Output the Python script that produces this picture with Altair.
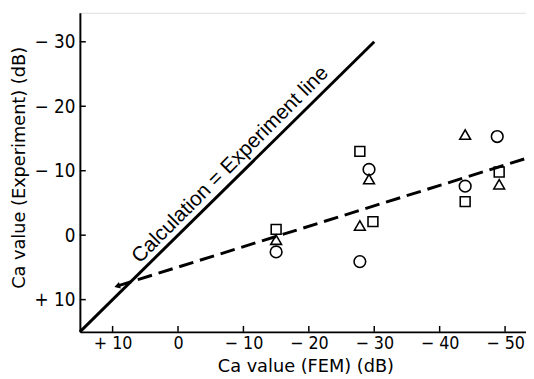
import altair as alt
import pandas as pd

# Ca values (dB)
circle_fem = [-15.0, -29.2, -27.8, -43.9, -48.8]
circle_exp = [2.6, -10.2, 4.1, -7.6, -15.3]
square_fem = [-15.0, -27.8, -29.8, -43.9, -49.1]
square_exp = [-0.9, -13.0, -2.1, -5.2, -9.8]
triangle_fem = [-15.0, -29.2, -27.8, -43.9, -49.1]
triangle_exp = [0.7, -8.7, -1.5, -15.6, -7.9]

ideal_fem = [15.0, -30.0]
ideal_exp = [15.0, -30.0]
trend_fem = [9.3, -53.2]
trend_exp = [7.9, -11.9]

x_ticks = [10, 0, -10, -20, -30, -40, -50]
y_ticks = [10, 0, -10, -20, -30]
x_domain = [-53.2, 15]
y_domain = [-34.5, 15]

label_text = ["Calculation = Experiment line"]
label_fem = [-8.0]
label_exp = [-10.9]

FONT = "Liberation Sans"
TFONT = "DejaVu Sans"
NFONT = "'Liberation Sans Narrow', 'DejaVu Sans Condensed', 'Liberation Sans'"
W, H = 453, 324

fmt = "datum.value > 0 ? '+ ' + datum.value : (datum.value < 0 ? '\u2212 ' + abs(datum.value) : '0')"

xs = alt.Scale(domain=x_domain, reverse=True, nice=False, zero=False)
ys = alt.Scale(domain=y_domain, reverse=True, nice=False, zero=False)

xaxis = alt.Axis(values=x_ticks, labelExpr=fmt, ticks=False, grid=False,
                 domainColor="black", domainWidth=1.6, labelFont=NFONT, labelFontSize=18,
                 labelColor="black", labelPadding=3, title="Ca value (FEM) (dB)",
                 titleFont=TFONT, titleFontSize=18, titleFontWeight="normal", titleColor="black",
                 titleX=229, titleY=40, titleBaseline="alphabetic")
yaxis = alt.Axis(values=y_ticks, labelExpr=fmt, ticks=False, grid=False,
                 domainColor="black", domainWidth=2, labelFont=NFONT, labelFontSize=19,
                 labelColor="black", labelPadding=5, title="Ca value (Experiment) (dB)",
                 titleFont=TFONT, titleFontSize=18, titleFontWeight="normal", titleColor="black",
                 titleX=-56, titleY=157, titleAngle=270, titleBaseline="alphabetic",
                 titleAlign="center")

pts = pd.DataFrame({
    "fem": circle_fem + square_fem + triangle_fem,
    "exp": circle_exp + square_exp + triangle_exp,
    "kind": ["circle"] * 5 + ["square"] * 5 + ["triangle-up"] * 5,
})

base_x = alt.X("fem:Q", scale=xs, axis=xaxis)
base_y = alt.Y("exp:Q", scale=ys, axis=yaxis)

ideal = alt.Chart(pd.DataFrame({"fem": ideal_fem, "exp": ideal_exp})).mark_line(
    color="black", strokeWidth=3).encode(x=base_x, y=base_y)

trend = alt.Chart(pd.DataFrame({"fem": trend_fem, "exp": trend_exp})).mark_line(
    color="black", strokeWidth=3, strokeDash=[15, 7]).encode(x=base_x, y=base_y)

arrow = alt.Chart(pd.DataFrame({"fem": trend_fem[:1], "exp": trend_exp[:1]})).mark_point(
    shape="triangle-up", filled=True, color="black", size=45, angle=253, opacity=1
).encode(x=base_x, y=base_y)

def sym(kind, size):
    return alt.Chart(pts[pts.kind == kind]).mark_point(
        shape=kind, filled=False, color="black", strokeWidth=1.6, size=size, opacity=1
    ).encode(x=base_x, y=base_y)

circles = sym("circle", 140)
squares = sym("square", 100)
triangles = sym("triangle-up", 120)

label = alt.Chart(pd.DataFrame({"fem": label_fem, "exp": label_exp, "t": label_text})).mark_text(
    angle=315, font=FONT, fontSize=21, color="black", align="center", baseline="middle"
).encode(x=base_x, y=base_y, text="t:N")

xt = alt.Chart(pd.DataFrame({"fem": x_ticks})).mark_rule(color="black", strokeWidth=1.5).encode(
    x=base_x, y=alt.value(H), y2=alt.value(H - 6))
yt = alt.Chart(pd.DataFrame({"exp": y_ticks})).mark_rule(color="black", strokeWidth=1.5).encode(
    y=base_y, x=alt.value(0), x2=alt.value(6))

chart = alt.layer(ideal, trend, arrow, circles, squares, triangles, label, xt, yt).properties(
    width=W, height=H,
    autosize=alt.AutoSizeParams(type="none"),
    padding={"left": 73, "top": 2, "right": 0, "bottom": 44},
).configure_view(stroke=None).configure(background="white")

chart.save("out.html", embed_options={"renderer": "svg", "actions": False})
